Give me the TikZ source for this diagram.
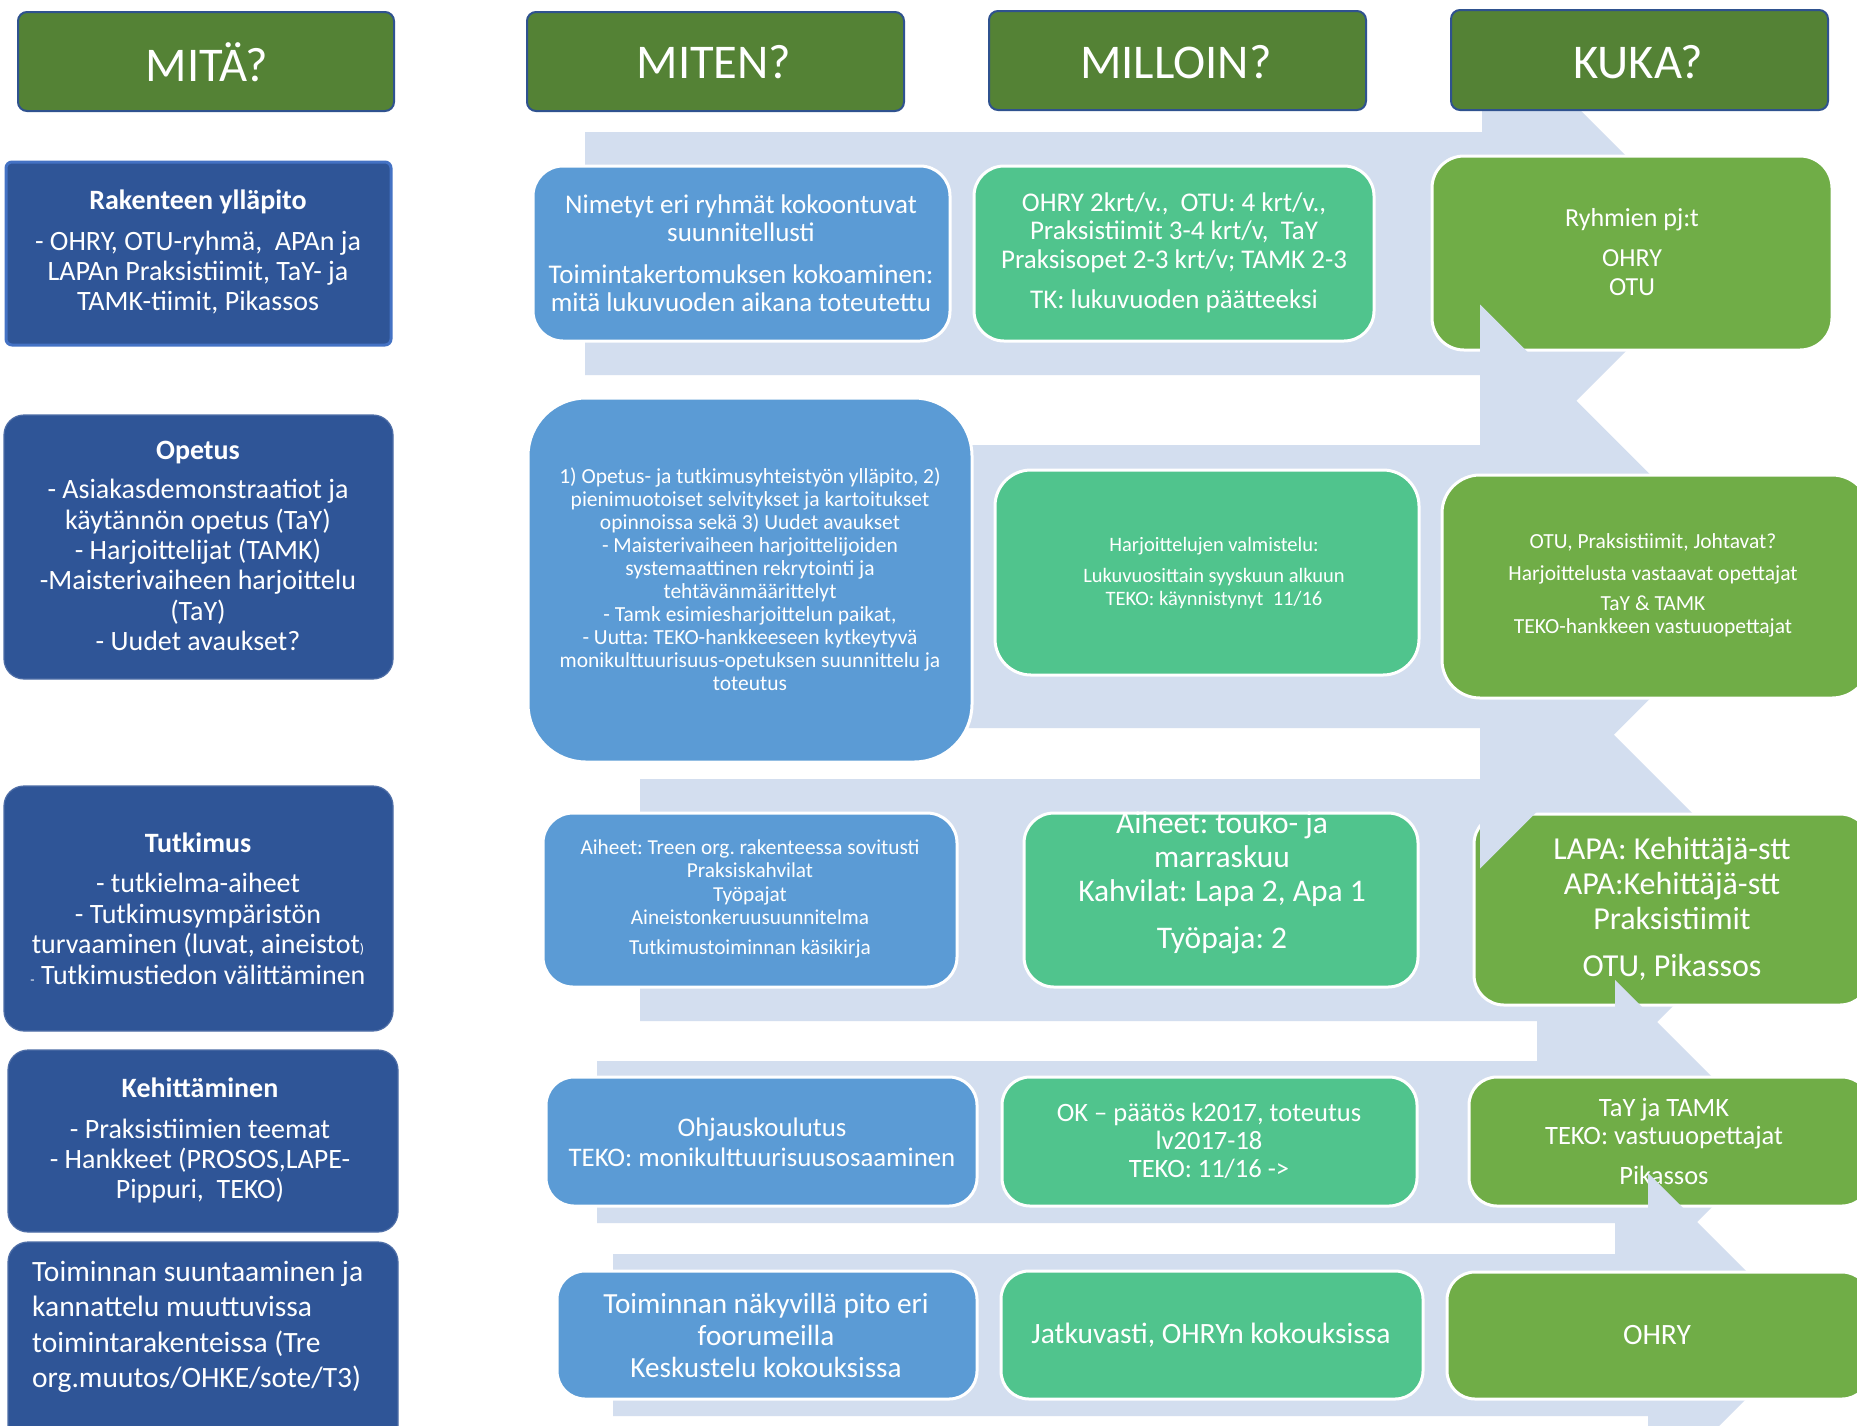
\documentclass[tikz,border=0pt]{standalone}
\usepackage{fontspec}
\setmainfont{Carlito}
\usetikzlibrary{fit}
\definecolor{bgarrow}{HTML}{D3DEEF}
\definecolor{hdrgreen}{HTML}{548235}
\definecolor{hdrline}{HTML}{2F528F}
\definecolor{dblue}{HTML}{2F5597}
\definecolor{dblueline}{HTML}{4472C4}
\definecolor{mblue}{HTML}{5B9BD5}
\definecolor{tealc}{HTML}{50C48D}
\definecolor{greenc}{HTML}{70AD47}
\tikzset{
  bgarr/.style={fill=bgarrow, draw=none},
  hdr/.style={fill=hdrgreen, draw=hdrline, line width=2pt, rounded corners=9pt, inner sep=0pt},
  lbox/.style={fill=dblue, draw=dblue!85!white, line width=1.2pt, rounded corners=20pt, inner sep=0pt},
  mbox/.style={fill=mblue, draw=white, line width=3pt, inner sep=0pt},
  tbox/.style={fill=tealc, draw=white, line width=3pt, inner sep=0pt},
  gbox/.style={fill=greenc, draw=white, line width=3pt, inner sep=0pt},
  txt/.style={text=white, align=center, inner sep=0pt},
  ltxt/.style={text=white, align=left, inner sep=0pt},
}
\newcommand{\fs}[2]{\fontsize{#1}{#2}\selectfont}
\frenchspacing
\begin{document}
\frenchspacing
\begin{tikzpicture}[x=1pt,y=-1pt]
\useasboundingbox (0,0) rectangle (1857,1425);
\clip (0,0) rectangle (1857,1425);
\fill[white] (0,0) rectangle (1857,1425);

% ---------- Row 1
\fill[bgarr] (585,132) -- (1482,132) -- (1482,12) -- (1723.5,253.5) -- (1482,495) -- (1482,375) -- (585,375) -- cycle;
\node[mbox, rounded corners=30pt, fit={(533,166) (950,341)}] (m1) {};
\node[tbox, rounded corners=30pt, fit={(974,166) (1374,341)}] (t1) {};
\node[gbox, rounded corners=32pt, fit={(1432,156) (1832,350)}] (g1) {};
\node[txt, font=\fs{27}{28}] (m1t) at (741,253) {Nimetyt eri ryhmät kokoontuvat\\suunnitellusti\\[14pt]Toimintakertomuksen kokoaminen:\\mitä lukuvuoden aikana toteutettu};
\node[txt, font=\fs{27}{28.5}] (t1t) at (1174,252.5) {OHRY 2krt/v.,\ \ OTU: 4 krt/v.,\\Praksistiimit 3-4 krt/v,\ \ TaY\\Praksisopet 2-3 krt/v; TAMK 2-3\\[11.5pt]TK: lukuvuoden päätteeksi};
\node[txt, font=\fs{26}{29}] (g1t) at (1632,252.5) {Ryhmien pj:t\\[11pt]OHRY\\OTU};

% ---------- Row 3
\fill[bgarr] (640,779) -- (1537,779) -- (1537,658) -- (1779,900) -- (1537,1142) -- (1537,1021) -- (640,1021) -- cycle;
\node[mbox, rounded corners=30pt, fit={(543,813) (957,987)}] (m3) {};
\node[tbox, rounded corners=30pt, fit={(1024,813) (1418,987)}] (t3) {};
\node[gbox, rounded corners=30pt, fit={(1474,814) (1870,1005)}] (g3) {};
\node[txt, font=\fs{21.3}{23.3}] (m3t) at (750,899) {Aiheet: Treen org. rakenteessa sovitusti\\Praksiskahvilat\\Työpajat\\Aineistonkeruusuunnitelma\\[7pt]Tutkimustoiminnan käsikirja};
\node[txt, font=\fs{31.5}{34}] (t3t) at (1222,882.5) {Aiheet: touko- ja\\marraskuu\\Kahvilat: Lapa 2, Apa 1\\[13pt]Työpaja: 2};
\node[txt, font=\fs{32}{35}] (g3t) at (1672,908.5) {LAPA: Kehittäjä-stt\\APA:Kehittäjä-stt\\Praksistiimit\\[12pt]OTU, Pikassos};

% ---------- Row 2
\fill[bgarr] (640,445) -- (1480,445) -- (1480,304.5) -- (1762,586.5) -- (1480,868.5) -- (1480,728) -- (640,728) -- cycle;
\node[mbox, rounded corners=58pt, fit={(528,398) (972,762)}] (m2) {};
\node[tbox, rounded corners=36pt, fit={(995,470) (1419,675)}] (t2) {};
\node[gbox, rounded corners=38pt, fit={(1442,475) (1870,698)}] (g2) {};
\node[txt, font=\fs{21.5}{23}] (m2t) at (750,579.5) {1) Opetus- ja tutkimusyhteistyön ylläpito, 2)\\pienimuotoiset selvitykset ja kartoitukset\\opinnoissa sekä 3) Uudet avaukset\\- Maisterivaiheen harjoittelijoiden\\systemaattinen rekrytointi ja\\tehtävänmäärittelyt\\- Tamk esimiesharjoittelun paikat,\\- Uutta: TEKO-hankkeeseen kytkeytyvä\\monikulttuurisuus-opetuksen suunnittelu ja\\toteutus};
\node[txt, font=\fs{20.5}{23}] (t2t) at (1214,573) {Harjoittelujen valmistelu:\\[8pt]Lukuvuosittain syyskuun alkuun\\TEKO: käynnistynyt\ \ 11/16};
\node[txt, font=\fs{21.5}{23}] (g2t) at (1653,585.5) {OTU, Praksistiimit, Johtavat?\\[9pt]Harjoittelusta vastaavat opettajat\\[7pt]TaY \& TAMK\\TEKO-hankkeen vastuuopettajat};

% ---------- Row 4
\fill[bgarr] (597,1061) -- (1615,1061) -- (1615,980) -- (1777,1142) -- (1615,1304) -- (1615,1223) -- (597,1223) -- cycle;
\node[mbox, rounded corners=28pt, fit={(546,1077) (977,1206)}] (m4) {};
\node[tbox, rounded corners=28pt, fit={(1002,1077) (1417,1206)}] (t4) {};
\node[gbox, rounded corners=28pt, fit={(1469,1077) (1870,1206)}] (g4) {};
\node[txt, font=\fs{26.8}{30}] (m4t) at (762,1142) {Ohjauskoulutus\\TEKO: monikulttuurisuusosaaminen};
\node[txt, font=\fs{26.5}{28}] (t4t) at (1209,1141) {OK – päätös k2017, toteutus\\lv2017-18\\TEKO: 11/16 ->};
\node[txt, font=\fs{26.5}{28}] (g4t) at (1664,1141) {TaY ja TAMK\\TEKO: vastuuopettajat\\[12pt]Pikassos};

% ---------- Row 5
\fill[bgarr] (613,1254) -- (1648,1254) -- (1648,1173) -- (1810,1335) -- (1648,1497) -- (1648,1416) -- (613,1416) -- cycle;
\node[mbox, rounded corners=28pt, fit={(557,1271) (977,1399)}] (m5) {};
\node[tbox, rounded corners=28pt, fit={(1001,1271) (1423,1399)}] (t5) {};
\node[gbox, rounded corners=28pt, fit={(1447,1272) (1870,1399)}] (g5) {};
\node[txt, font=\fs{29.2}{32}] (m5t) at (766,1335) {Toiminnan näkyvillä pito eri\\foorumeilla\\Keskustelu kokouksissa};
\node[txt, font=\fs{29.5}{32}] (t5t) at (1211,1335) {Jatkuvasti, OHRYn kokouksissa};
\node[txt, font=\fs{29.5}{32}] (g5t) at (1657,1335) {OHRY};

% ---------- Left column
\node[lbox, draw=dblueline, line width=3pt, rounded corners=6pt, fit={(6,162) (391,345)}] (l1) {};
\node[txt, font=\fs{28}{30}] (l1t) at (198,252) {\textbf{Rakenteen ylläpito}\\[11pt]- OHRY, OTU-ryhmä,\ \ APAn ja\\LAPAn Praksistiimit, TaY- ja\\TAMK-tiimit, Pikassos};
\node[lbox, fit={(4,415) (393,679)}] (l2) {};
\node[txt, font=\fs{28}{30.4}] (l2t) at (198,546) {\textbf{Opetus}\\[9pt]- Asiakasdemonstraatiot ja\\käytännön opetus (TaY)\\- Harjoittelijat (TAMK)\\-Maisterivaiheen harjoittelu\\(TaY)\\- Uudet avaukset?};
\node[lbox, fit={(4,786) (393,1031)}] (l3) {};
\node[txt, font=\fs{28}{30.7}] (l3t) at (198,909) {\textbf{Tutkimus}\\[9pt]- tutkielma-aiheet\\- Tutkimusympäristön\\turvaaminen (luvat, aineistot{\fs{14}{14})}\\{\fs{14}{14}-} Tutkimustiedon välittäminen};
\node[lbox, fit={(8,1050) (398,1232)}] (l4) {};
\node[txt, font=\fs{28}{30}] (l4t) at (200,1140.5) {\textbf{Kehittäminen}\\[11pt]- Praksistiimien teemat\\- Hankkeet (PROSOS,LAPE-\\Pippuri,\ \ TEKO)};
\node[lbox, fit={(8,1242) (398,1450)}] (l5) {};
\node[ltxt, font=\fs{29.5}{35.3}, anchor=west] (l5t) at (32,1327) {Toiminnan suuntaaminen ja\\kannattelu muuttuvissa\\toimintarakenteissa (Tre\\org.muutos/OHKE/sote/T3)};

% ---------- Headers
\node[hdr, fit={(18,12) (394,111)}] (h1) {};
\node[hdr, fit={(527,12) (904,111)}] (h2) {};
\node[hdr, fit={(989,11) (1366,110)}] (h3) {};
\node[hdr, fit={(1451,10) (1828,110)}] (h4) {};
\node[txt, font=\fs{48.5}{50}] (h1t) at (207,62) {MITÄ?};
\node[txt, font=\fs{48.5}{50}] (h2t) at (714,62) {MITEN?};
\node[txt, font=\fs{48.5}{50}] (h3t) at (1176,62) {MILLOIN?};
\node[txt, font=\fs{48.5}{50}] (h4t) at (1638,62) {KUKA?};
\end{tikzpicture}
\end{document}
